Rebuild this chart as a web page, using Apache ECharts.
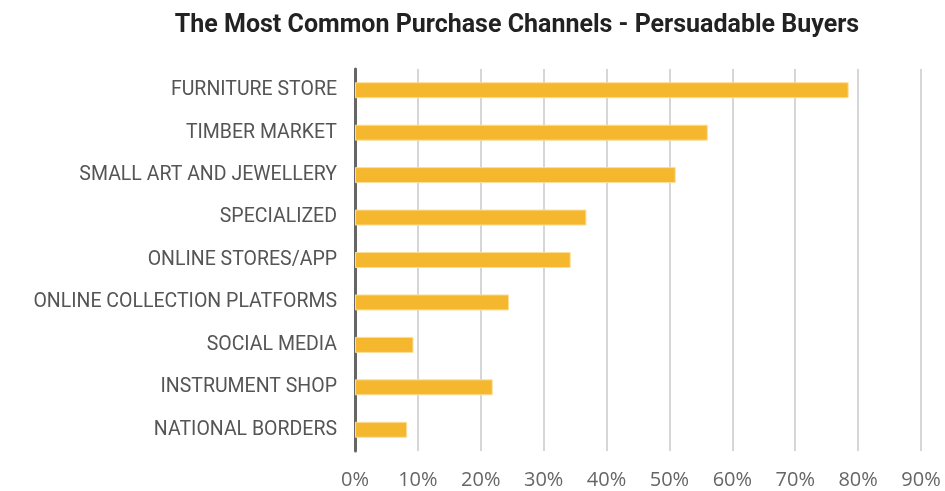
<!DOCTYPE html>
<html><head><meta charset="utf-8">
<script src="https://cdn.jsdelivr.net/npm/echarts@6/dist/echarts.min.js"></script>
<style>html,body{margin:0;padding:0;background:#fff}#c{width:945px;height:491px}</style>
</head><body><div id="c"></div>
<script>
const categories = ["FURNITURE STORE","TIMBER MARKET","SMALL ART AND JEWELLERY","SPECIALIZED","ONLINE STORES/APP","ONLINE COLLECTION PLATFORMS","SOCIAL MEDIA","INSTRUMENT SHOP","NATIONAL BORDERS"];
const values = [78.5, 56.1, 51.0, 36.8, 34.3, 24.5, 9.3, 21.9, 8.3];
const chart = echarts.init(document.getElementById('c'));
chart.setOption({
  animation:false,
  title:{text:"The Most Common Purchase Channels - Persuadable Buyers",left:512,top:8,textAlign:'center',
    textStyle:{fontFamily:'Roboto',fontWeight:'bold',fontSize:25,color:'#222'}},
  grid:{left:355,right:24,top:69,bottom:40,containLabel:false},
  xAxis:{type:'value',min:0,max:90,interval:10,
    axisLabel:{formatter:'{value}%',fontFamily:'Open Sans',fontSize:20,color:'#666',margin:19},
    axisLine:{show:false},axisTick:{show:false},
    splitLine:{lineStyle:{color:'#c8c8c8',width:1.5}}},
  yAxis:{type:'category',data:categories,inverse:true,
    axisLine:{lineStyle:{color:'#666',width:3}},axisTick:{show:false},
    axisLabel:{fontFamily:'Roboto',fontSize:19.5,color:'#555',margin:18,padding:[4,0,0,0]}},
  series:[{type:'bar',data:values,barWidth:16,
    itemStyle:{color:'#F4B72E',borderColor:'#FBDF9A',borderWidth:1}}]
});
</script></body></html>
